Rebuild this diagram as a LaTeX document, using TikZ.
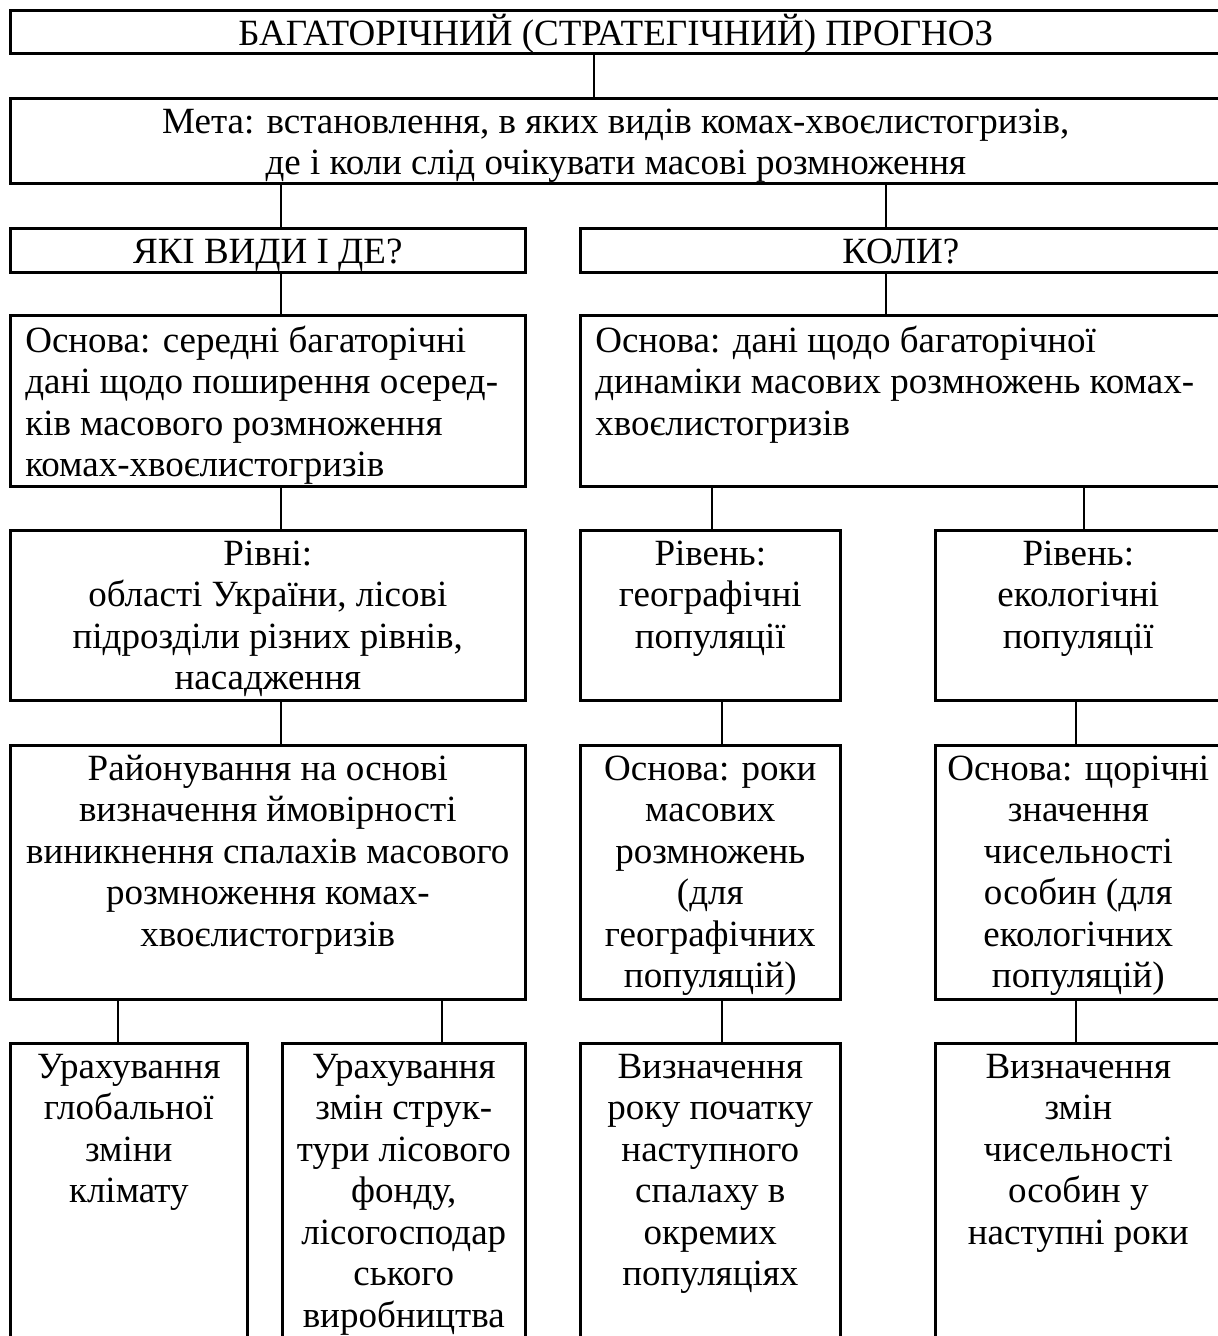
\documentclass[tikz,border=0pt]{standalone}
\usepackage{fontspec}
\setmainfont{Liberation Serif}
\usepackage{tikz}
\tikzstyle{blk} = [draw, line width=2.6pt, inner sep=0pt, anchor=north west]
\tikzstyle{link} = [line width=2.6pt]
\newcommand{\cell}[4][\centering]{\parbox[t][#3pt][t]{#2pt}{#1\rule{0pt}{35pt}#4}}
\newcommand{\lft}{\raggedright\leftskip=15pt\rule{0pt}{37pt}}

\begin{document}
\begin{tikzpicture}[x=1pt, y=1pt, font=\fontsize{37}{41.5}\selectfont]
	\useasboundingbox (0,0) rectangle (1218,-1336);
	\node[blk] (top) at (9,-9) {\cell{1211}{43}{БАГАТОРІЧНИЙ (СТРАТЕГІЧНИЙ) ПРОГНОЗ}};
	\node[blk] (meta) at (9,-97) {\cell{1211}{85}{Мета: встановлення, в яких видів комах-хвоєлистогризів,\\де і коли слід очікувати масові розмноження}};
	\node[blk] (yaki) at (9,-227) {\cell{515}{44}{ЯКІ ВИДИ І ДЕ?}};
	\node[blk] (koly) at (579,-227) {\cell{641}{44}{КОЛИ?}};
	\node[blk] (osnL) at (9,-314) {\cell[\lft]{515}{171}{Основа: середні багаторічні\\дані щодо поширення осеред-\\ків масового розмноження\\комах-хвоєлистогризів}};
	\node[blk] (osnR) at (579,-314) {\cell[\lft]{641}{171}{Основа: дані щодо багаторічної\\динаміки масових розмножень комах-\\хвоєлистогризів}};
	\node[blk] (rivni) at (9,-529) {\cell{515}{170}{Рівні:\\області України, лісові\\підрозділи різних рівнів,\\насадження}};
	\node[blk] (geo) at (579,-529) {\cell{260}{170}{Рівень:\\географічні\\популяції}};
	\node[blk] (eco) at (934,-529) {\cell{286}{170}{Рівень:\\екологічні\\популяції}};
	\node[blk] (rayon) at (9,-744) {\cell{515}{254}{Районування на основі\\визначення ймовірності\\виникнення спалахів масового\\розмноження комах-\\хвоєлистогризів}};
	\node[blk] (roky) at (579,-744) {\cell{260}{254}{Основа: роки\\масових\\розмножень\\(для\\географічних\\популяцій)}};
	\node[blk] (shch) at (934,-744) {\cell{286}{254}{Основа: щорічні\\значення\\чисельності\\особин (для\\екологічних\\популяцій)}};
	\node[blk] (urA) at (9,-1042) {\cell{237}{303}{Урахування\\глобальної\\зміни\\клімату}};
	\node[blk] (urB) at (281,-1042) {\cell{243}{303}{Урахування\\змін струк-\\тури лісового\\фонду,\\лісогосподар\\ського\\виробництва}};
	\node[blk] (vyA) at (579,-1042) {\cell{260}{303}{Визначення\\року початку\\наступного\\спалаху в\\окремих\\популяціях}};
	\node[blk] (vyB) at (934,-1042) {\cell{286}{303}{Визначення\\змін\\чисельності\\особин у\\наступні роки}};
	\foreach \a/\b/\d in {top/meta/585, meta/yaki/272, meta/koly/307, yaki/osnL/272, koly/osnR/307, osnL/rivni/272, osnR/geo/133, osnR/eco/150, rivni/rayon/272, geo/roky/143, eco/shch/142, rayon/urA/109, rayon/urB/161, roky/vyA/143, shch/vyB/142}
		\draw[link] ([xshift=\d pt]\b.north west) -- ([xshift=\d pt]\b.north west |- \a.south);
\end{tikzpicture}
\end{document}
